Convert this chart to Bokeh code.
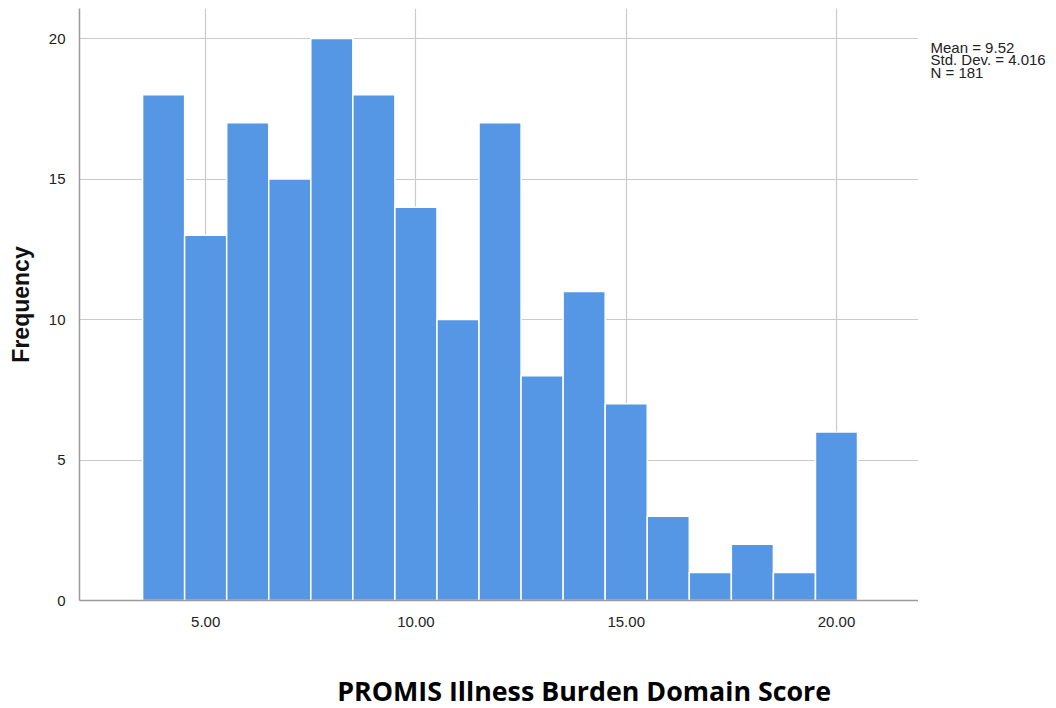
from bokeh.plotting import figure
from bokeh.layouts import row, column
from bokeh.models import FixedTicker, NumeralTickFormatter, Range1d
from bokeh.core.properties import value
from bokeh.embed import file_html
from bokeh.resources import INLINE

# Data: histogram of PROMIS Illness Burden Domain Score (bin width 1)
scores = [4, 5, 6, 7, 8, 9, 10, 11, 12, 13, 14, 15, 16, 17, 18, 19, 20]
counts = [18, 13, 17, 15, 20, 18, 14, 10, 17, 8, 11, 7, 3, 1, 2, 1, 6]
x_ticks = [5, 10, 15, 20]
y_ticks = [0, 5, 10, 15, 20]
stats_lines = ["Mean = 9.52", "Std. Dev. = 4.016", "N = 181"]
x_title = "PROMIS Illness Burden Domain Score"
y_title = "Frequency"

SANS = "Liberation Sans"

x_range = Range1d(2.0, 21.95)
y_range = Range1d(0, 21.07)

p = figure(width=918, height=640, output_backend="svg", toolbar_location=None,
           x_range=x_range, y_range=y_range,
           min_border_left=79, min_border_right=0, min_border_top=8, min_border_bottom=40)
p.outline_line_color = None

lefts = [s - 0.5 for s in scores]
rights = [s + 0.5 for s in scores]
p.quad(left=lefts, right=rights, bottom=0, top=counts,
       fill_color="#5597E5", line_color="white", line_width=1.5)

for ax in (p.xaxis[0], p.yaxis[0]):
    ax.axis_line_color = "#9a9a9a"
    ax.axis_line_width = 1.5
    ax.major_tick_line_color = None
    ax.minor_tick_line_color = None
    ax.major_label_text_font = SANS
    ax.major_label_text_font_size = "15px"
    ax.major_label_text_color = "#222222"

p.xaxis.ticker = FixedTicker(ticks=x_ticks)
p.xaxis.formatter = NumeralTickFormatter(format="0.00")
p.xaxis.major_label_standoff = 10
p.yaxis.ticker = FixedTicker(ticks=y_ticks)
p.yaxis.major_label_standoff = 8

p.yaxis.axis_label = y_title
p.yaxis.axis_label_text_font = SANS
p.yaxis.axis_label_text_font_style = "bold"
p.yaxis.axis_label_text_font_size = "23px"
p.yaxis.axis_label_text_color = "#111111"
p.yaxis.axis_label_standoff = 12

p.xgrid.ticker = FixedTicker(ticks=x_ticks)
p.ygrid.ticker = FixedTicker(ticks=y_ticks)
for g in (p.xgrid[0], p.ygrid[0]):
    g.grid_line_color = "#cacaca"
    g.grid_line_width = 1.2

# Statistics panel to the right of the plot (shares the y scale)
side = figure(width=138, height=640, output_backend="svg", toolbar_location=None,
              x_range=Range1d(0, 138), y_range=y_range, x_axis_type=None, y_axis_type=None,
              min_border_left=0, min_border_right=0, min_border_top=8, min_border_bottom=40)
side.outline_line_color = None
side.xgrid.visible = False
side.ygrid.visible = False
stat_y = [19.68 - i * 0.44 for i in range(len(stats_lines))]
side.text(x=[12] * len(stats_lines), y=stat_y, text=stats_lines,
          text_align="left", text_baseline="middle",
          text_font=value(SANS), text_font_size="15px", text_color="#222222")

# X-axis title strip below (shares the x scale)
bottom = figure(width=1056, height=68, output_backend="svg", toolbar_location=None,
                x_range=x_range, y_range=Range1d(0, 1), x_axis_type=None, y_axis_type=None,
                min_border_left=79, min_border_right=138, min_border_top=0, min_border_bottom=0)
bottom.outline_line_color = None
bottom.xgrid.visible = False
bottom.ygrid.visible = False
bottom.text(x=[14.0], y=[0.265], text=[x_title], text_align="center", text_baseline="middle",
            text_font=value("Open Sans"), text_font_style="bold", text_font_size="26.8px",
            text_color="#000000")

layout = column(row(p, side), bottom)
open("out.html", "w").write(file_html(layout, INLINE))
